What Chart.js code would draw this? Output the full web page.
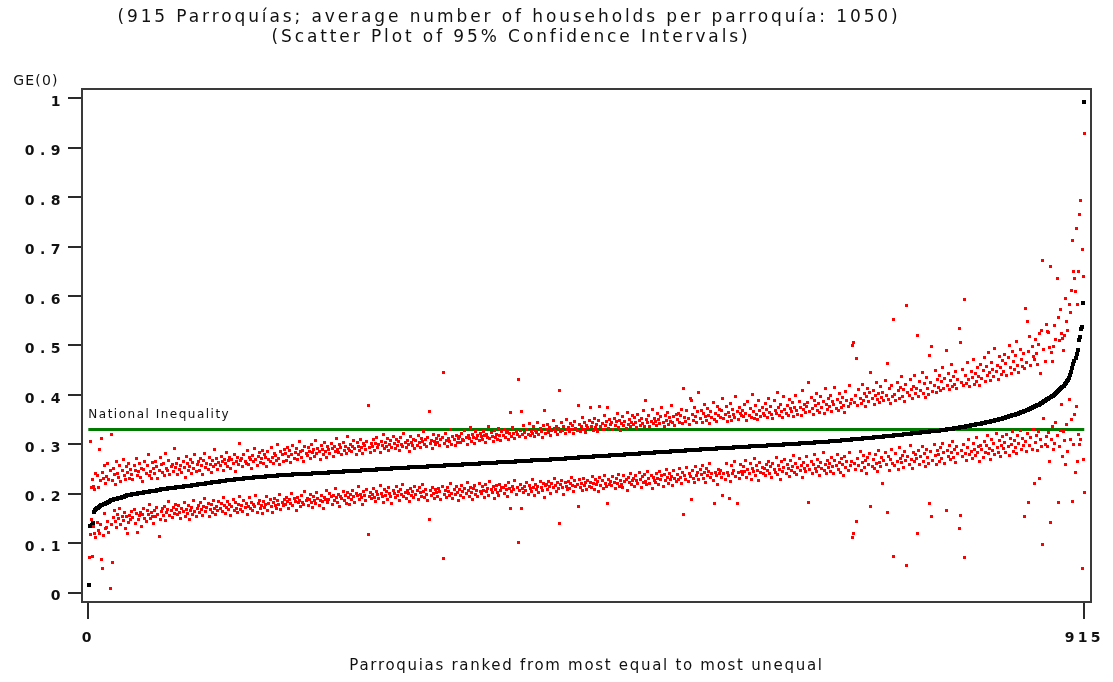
<!DOCTYPE html>
<html>
<head>
<meta charset="utf-8">
<script src="https://cdn.jsdelivr.net/npm/chart.js@4.4.1/dist/chart.umd.min.js"></script>
<style>
  html, body { margin: 0; padding: 0; background: #fff; }
</style>
</head>
<body>
<canvas id="chart" width="1113" height="682"></canvas>
<script>
// Texts
const titleLines = [
  '(915 Parroquías; average number of households per parroquía: 1050)',
  '(Scatter Plot of 95% Confidence Intervals)'
];
const xAxisTitle = 'Parroquias ranked from most equal to most unequal';
const yAxisTitle = 'GE(0)';
const nationalLabel = 'National Inequality';

// Axis ticks
const xTicks = [0, 915];
const yTicks = [0, 0.1, 0.2, 0.3, 0.4, 0.5, 0.6, 0.7, 0.8, 0.9, 1];

// National GE(0)
const nationalLevel = 0.33;

// GE(0) per parroquia, ranked (rank 1..915)
const ge0 = [
  0.015,0.135,0.137,0.140,0.163,0.167,0.169,0.171,0.172,0.174,0.176,0.177,0.178,0.179,0.180,0.181,0.182,0.183,0.184,0.185,
  0.187,0.188,0.188,0.189,0.190,0.190,0.191,0.191,0.192,0.192,0.193,0.193,0.194,0.195,0.196,0.197,0.197,0.198,0.198,0.199,
  0.199,0.199,0.200,0.200,0.200,0.201,0.201,0.201,0.202,0.202,0.203,0.203,0.203,0.204,0.204,0.204,0.205,0.205,0.205,0.206,
  0.206,0.206,0.207,0.207,0.208,0.208,0.209,0.209,0.209,0.210,0.210,0.210,0.211,0.211,0.211,0.211,0.212,0.212,0.212,0.212,
  0.213,0.213,0.213,0.214,0.214,0.214,0.214,0.215,0.215,0.215,0.215,0.216,0.216,0.216,0.217,0.217,0.218,0.218,0.218,0.218,
  0.219,0.219,0.219,0.220,0.220,0.220,0.220,0.221,0.221,0.221,0.222,0.222,0.222,0.223,0.223,0.223,0.224,0.224,0.224,0.224,
  0.225,0.225,0.225,0.226,0.226,0.226,0.227,0.227,0.227,0.227,0.228,0.228,0.228,0.228,0.229,0.229,0.229,0.229,0.230,0.230,
  0.230,0.230,0.231,0.231,0.231,0.231,0.232,0.232,0.232,0.232,0.232,0.233,0.233,0.233,0.233,0.233,0.233,0.234,0.234,0.234,
  0.234,0.234,0.235,0.235,0.235,0.235,0.235,0.236,0.236,0.236,0.236,0.236,0.236,0.237,0.237,0.237,0.237,0.237,0.237,0.238,
  0.238,0.238,0.238,0.238,0.238,0.238,0.238,0.239,0.239,0.239,0.239,0.239,0.239,0.240,0.240,0.240,0.240,0.240,0.240,0.241,
  0.241,0.241,0.241,0.241,0.241,0.242,0.242,0.242,0.242,0.242,0.242,0.242,0.242,0.243,0.243,0.243,0.243,0.243,0.243,0.243,
  0.244,0.244,0.244,0.244,0.244,0.244,0.244,0.245,0.245,0.245,0.245,0.245,0.245,0.245,0.246,0.246,0.246,0.246,0.246,0.246,
  0.246,0.246,0.247,0.247,0.247,0.247,0.247,0.247,0.247,0.247,0.248,0.248,0.248,0.248,0.248,0.248,0.248,0.249,0.249,0.249,
  0.249,0.249,0.249,0.249,0.250,0.250,0.250,0.250,0.250,0.250,0.250,0.251,0.251,0.251,0.251,0.251,0.251,0.251,0.252,0.252,
  0.252,0.252,0.252,0.252,0.252,0.252,0.253,0.253,0.253,0.253,0.253,0.253,0.253,0.253,0.254,0.254,0.254,0.254,0.254,0.254,
  0.254,0.254,0.254,0.255,0.255,0.255,0.255,0.255,0.255,0.255,0.255,0.256,0.256,0.256,0.256,0.256,0.256,0.256,0.256,0.257,
  0.257,0.257,0.257,0.257,0.257,0.257,0.257,0.258,0.258,0.258,0.258,0.258,0.258,0.258,0.258,0.259,0.259,0.259,0.259,0.259,
  0.259,0.259,0.259,0.260,0.260,0.260,0.260,0.260,0.260,0.260,0.260,0.261,0.261,0.261,0.261,0.261,0.261,0.261,0.261,0.262,
  0.262,0.262,0.262,0.262,0.262,0.262,0.262,0.263,0.263,0.263,0.263,0.263,0.263,0.263,0.263,0.264,0.264,0.264,0.264,0.264,
  0.264,0.264,0.264,0.264,0.265,0.265,0.265,0.265,0.265,0.265,0.265,0.265,0.266,0.266,0.266,0.266,0.266,0.266,0.266,0.266,
  0.267,0.267,0.267,0.267,0.267,0.267,0.267,0.268,0.268,0.268,0.268,0.268,0.268,0.268,0.269,0.269,0.269,0.269,0.269,0.269,
  0.269,0.269,0.269,0.269,0.270,0.270,0.270,0.270,0.270,0.270,0.270,0.271,0.271,0.271,0.271,0.271,0.271,0.271,0.272,0.272,
  0.272,0.272,0.272,0.273,0.273,0.273,0.273,0.273,0.273,0.273,0.274,0.274,0.274,0.274,0.274,0.274,0.274,0.275,0.275,0.275,
  0.275,0.275,0.275,0.275,0.276,0.276,0.276,0.276,0.276,0.276,0.276,0.277,0.277,0.277,0.277,0.277,0.277,0.277,0.278,0.278,
  0.278,0.278,0.278,0.278,0.278,0.279,0.279,0.279,0.279,0.279,0.279,0.279,0.280,0.280,0.280,0.280,0.280,0.280,0.280,0.281,
  0.281,0.281,0.281,0.281,0.281,0.281,0.282,0.282,0.282,0.282,0.282,0.282,0.282,0.283,0.283,0.283,0.283,0.283,0.283,0.283,
  0.284,0.284,0.284,0.284,0.284,0.284,0.284,0.285,0.285,0.285,0.285,0.285,0.285,0.285,0.286,0.286,0.286,0.286,0.286,0.286,
  0.286,0.287,0.287,0.287,0.287,0.287,0.287,0.287,0.288,0.288,0.288,0.288,0.288,0.288,0.288,0.289,0.289,0.289,0.289,0.289,
  0.289,0.289,0.290,0.290,0.290,0.290,0.290,0.290,0.290,0.291,0.291,0.291,0.291,0.291,0.291,0.291,0.291,0.292,0.292,0.292,
  0.292,0.292,0.292,0.292,0.293,0.293,0.293,0.293,0.293,0.293,0.293,0.293,0.294,0.294,0.294,0.294,0.294,0.294,0.294,0.295,
  0.295,0.295,0.295,0.295,0.295,0.295,0.295,0.296,0.296,0.296,0.296,0.296,0.296,0.296,0.296,0.297,0.297,0.297,0.297,0.297,
  0.297,0.297,0.297,0.298,0.298,0.298,0.298,0.298,0.298,0.298,0.298,0.299,0.299,0.299,0.299,0.299,0.299,0.299,0.300,0.300,
  0.300,0.300,0.300,0.300,0.300,0.300,0.301,0.301,0.301,0.301,0.301,0.301,0.301,0.302,0.302,0.302,0.302,0.302,0.302,0.302,
  0.303,0.303,0.303,0.303,0.303,0.303,0.303,0.304,0.304,0.304,0.304,0.304,0.304,0.305,0.305,0.305,0.305,0.305,0.305,0.305,
  0.306,0.306,0.306,0.306,0.306,0.306,0.307,0.307,0.307,0.307,0.307,0.308,0.308,0.308,0.308,0.308,0.309,0.309,0.309,0.309,
  0.309,0.310,0.310,0.310,0.310,0.310,0.311,0.311,0.311,0.311,0.311,0.312,0.312,0.312,0.312,0.312,0.313,0.313,0.313,0.313,
  0.313,0.314,0.314,0.314,0.314,0.315,0.315,0.315,0.315,0.315,0.316,0.316,0.316,0.316,0.317,0.317,0.317,0.317,0.317,0.318,
  0.318,0.318,0.318,0.318,0.319,0.319,0.319,0.319,0.320,0.320,0.320,0.320,0.321,0.321,0.321,0.321,0.322,0.322,0.322,0.322,
  0.323,0.323,0.323,0.323,0.324,0.324,0.324,0.324,0.325,0.325,0.325,0.325,0.326,0.326,0.326,0.326,0.327,0.327,0.327,0.328,
  0.328,0.328,0.329,0.329,0.329,0.330,0.330,0.330,0.331,0.331,0.331,0.332,0.332,0.332,0.333,0.333,0.333,0.334,0.334,0.334,
  0.335,0.335,0.335,0.336,0.336,0.337,0.337,0.337,0.338,0.338,0.339,0.339,0.339,0.340,0.340,0.341,0.341,0.342,0.342,0.342,
  0.343,0.343,0.344,0.344,0.345,0.345,0.346,0.346,0.347,0.347,0.348,0.348,0.349,0.349,0.350,0.350,0.351,0.351,0.352,0.353,
  0.353,0.354,0.355,0.355,0.356,0.357,0.357,0.358,0.359,0.359,0.360,0.361,0.362,0.362,0.363,0.364,0.365,0.366,0.366,0.367,
  0.368,0.369,0.370,0.371,0.372,0.373,0.374,0.375,0.376,0.377,0.378,0.379,0.380,0.381,0.383,0.384,0.385,0.387,0.388,0.389,
  0.391,0.392,0.394,0.395,0.397,0.398,0.400,0.402,0.404,0.406,0.408,0.410,0.412,0.414,0.417,0.419,0.422,0.425,0.428,0.431,
  0.435,0.440,0.447,0.455,0.463,0.468,0.475,0.482,0.490,0.512,0.518,0.534,0.537,0.586,0.992
];

// Upper bound of the 95% confidence interval, same ranking
const ciUpper = [
  0.072,0.305,0.213,0.228,0.215,0.209,0.242,0.236,0.212,0.290,0.226,0.311,0.244,0.231,0.258,0.221,0.235,0.262,0.229,0.247,
  0.319,0.226,0.251,0.238,0.219,0.266,0.241,0.233,0.257,0.224,0.248,0.270,0.236,0.229,0.255,0.244,0.262,0.231,0.250,0.239,
  0.228,0.258,0.247,0.271,0.236,0.245,0.262,0.233,0.252,0.224,0.249,0.266,0.240,0.257,0.279,0.237,0.246,0.231,0.263,0.251,
  0.240,0.266,0.255,0.231,0.248,0.273,0.259,0.244,0.262,0.236,0.281,0.251,0.247,0.268,0.239,0.256,0.260,0.245,0.292,0.253,
  0.262,0.238,0.271,0.249,0.257,0.243,0.266,0.254,0.233,0.275,0.261,0.248,0.256,0.270,0.241,0.263,0.252,0.279,0.246,0.259,
  0.265,0.247,0.272,0.258,0.239,0.268,0.281,0.253,0.262,0.249,0.274,0.260,0.243,0.267,0.256,0.290,0.259,0.271,0.250,0.264,
  0.258,0.276,0.265,0.248,0.270,0.261,0.283,0.255,0.267,0.273,0.252,0.269,0.262,0.279,0.246,0.266,0.274,0.259,0.302,0.268,
  0.271,0.256,0.280,0.266,0.262,0.287,0.259,0.274,0.269,0.251,0.278,0.265,0.292,0.270,0.258,0.276,0.283,0.263,0.271,0.288,
  0.262,0.279,0.273,0.256,0.285,0.270,0.266,0.294,0.274,0.261,0.282,0.277,0.268,0.299,0.271,0.259,0.286,0.279,0.265,0.290,
  0.281,0.268,0.293,0.276,0.287,0.263,0.280,0.298,0.272,0.284,0.291,0.269,0.279,0.305,0.286,0.274,0.288,0.266,0.295,0.282,
  0.277,0.294,0.286,0.271,0.300,0.283,0.289,0.275,0.308,0.281,0.292,0.286,0.270,0.297,0.290,0.279,0.303,0.285,0.274,0.296,
  0.289,0.281,0.301,0.292,0.276,0.296,0.286,0.312,0.290,0.283,0.299,0.293,0.279,0.304,0.288,0.296,0.281,0.315,0.292,0.287,
  0.300,0.285,0.295,0.308,0.291,0.279,0.303,0.296,0.288,0.310,0.293,0.282,0.301,0.297,0.289,0.306,0.378,0.294,0.284,0.302,
  0.295,0.309,0.288,0.301,0.314,0.293,0.299,0.283,0.306,0.297,0.320,0.291,0.303,0.296,0.311,0.287,0.300,0.308,0.294,0.316,
  0.302,0.291,0.310,0.298,0.305,0.287,0.313,0.300,0.295,0.322,0.304,0.293,0.308,0.299,0.286,0.315,0.303,0.297,0.310,0.292,
  0.307,0.298,0.318,0.303,0.293,0.311,0.305,0.326,0.300,0.309,0.296,0.314,0.367,0.302,0.308,0.291,0.319,0.305,0.299,0.312,
  0.304,0.317,0.298,0.309,0.313,0.446,0.301,0.322,0.307,0.295,0.312,0.306,0.330,0.300,0.315,0.309,0.297,0.318,0.304,0.311,
  0.316,0.303,0.321,0.310,0.307,0.328,0.313,0.299,0.318,0.312,0.334,0.306,0.320,0.314,0.302,0.325,0.311,0.317,0.308,0.322,
  0.315,0.309,0.326,0.318,0.304,0.320,0.313,0.337,0.311,0.323,0.316,0.306,0.329,0.314,0.319,0.310,0.332,0.317,0.308,0.325,
  0.318,0.330,0.313,0.323,0.327,0.310,0.321,0.364,0.316,0.334,0.322,0.311,0.326,0.319,0.432,0.315,0.329,0.367,0.320,0.338,
  0.324,0.313,0.331,0.320,0.342,0.318,0.327,0.322,0.336,0.315,0.329,0.324,0.345,0.319,0.332,0.326,0.314,0.339,0.368,0.321,
  0.330,0.341,0.323,0.335,0.318,0.328,0.348,0.332,0.325,0.337,0.320,0.333,0.409,0.327,0.344,0.329,0.336,0.322,0.351,0.331,
  0.334,0.325,0.343,0.330,0.338,0.321,0.346,0.333,0.328,0.378,0.340,0.326,0.336,0.355,0.331,0.344,0.323,0.339,0.334,0.349,
  0.375,0.337,0.345,0.329,0.352,0.334,0.341,0.327,0.348,0.376,0.336,0.343,0.331,0.358,0.339,0.346,0.375,0.333,0.350,0.340,
  0.344,0.331,0.353,0.338,0.347,0.362,0.335,0.349,0.328,0.342,0.357,0.339,0.346,0.333,0.365,0.341,0.350,0.336,0.345,0.358,
  0.340,0.355,0.345,0.334,0.361,0.348,0.339,0.352,0.343,0.368,0.337,0.388,0.350,0.344,0.359,0.336,0.347,0.371,0.342,0.353,
  0.346,0.338,0.362,0.351,0.343,0.357,0.374,0.345,0.336,0.359,0.349,0.365,0.341,0.354,0.347,0.378,0.344,0.356,0.339,0.361,
  0.350,0.363,0.345,0.358,0.371,0.342,0.414,0.355,0.347,0.368,0.352,0.340,0.392,0.389,0.361,0.349,0.375,0.357,0.344,0.366,
  0.404,0.353,0.369,0.345,0.362,0.381,0.356,0.348,0.373,0.359,0.342,0.366,0.355,0.385,0.351,0.363,0.347,0.377,0.358,0.370,
  0.355,0.368,0.392,0.352,0.361,0.376,0.346,0.364,0.357,0.383,0.349,0.371,0.360,0.354,0.397,0.366,0.351,0.374,0.362,0.358,
  0.369,0.356,0.380,0.363,0.348,0.386,0.359,0.372,0.355,0.401,0.366,0.353,0.378,0.361,0.350,0.389,0.368,0.357,0.375,0.363,
  0.359,0.382,0.371,0.354,0.393,0.365,0.377,0.360,0.352,0.388,0.369,0.362,0.405,0.374,0.358,0.381,0.366,0.355,0.396,0.370,
  0.363,0.379,0.358,0.391,0.372,0.366,0.384,0.356,0.375,0.399,0.368,0.361,0.387,0.374,0.359,0.408,0.370,0.381,0.364,0.377,
  0.385,0.426,0.367,0.395,0.373,0.360,0.389,0.378,0.402,0.369,0.383,0.364,0.397,0.375,0.386,0.362,0.412,0.380,0.371,0.393,
  0.376,0.398,0.366,0.387,0.381,0.415,0.372,0.390,0.368,0.403,0.384,0.374,0.395,0.379,0.365,0.407,0.388,0.377,0.419,0.382,
  0.391,0.500,0.507,0.385,0.399,0.473,0.378,0.410,0.393,0.383,0.422,0.388,0.402,0.376,0.396,0.414,0.386,0.404,0.446,0.392,
  0.409,0.381,0.398,0.425,0.390,0.403,0.384,0.417,0.394,0.405,0.388,0.430,0.399,0.464,0.391,0.412,0.383,0.420,0.397,0.552,
  0.401,0.389,0.426,0.408,0.393,0.415,0.437,0.396,0.410,0.386,0.421,0.580,0.404,0.398,0.432,0.411,0.392,0.418,0.440,0.402,
  0.414,0.520,0.397,0.428,0.409,0.445,0.403,0.423,0.395,0.436,0.413,0.401,0.480,0.426,0.497,0.407,0.419,0.450,0.404,0.431,
  0.415,0.439,0.408,0.427,0.456,0.412,0.433,0.490,0.420,0.444,0.410,0.429,0.461,0.417,0.437,0.422,0.448,0.414,0.432,0.535,
  0.507,0.426,0.452,0.419,0.593,0.440,0.424,0.466,0.431,0.418,0.447,0.435,0.471,0.422,0.443,0.428,0.456,0.437,0.420,0.462,
  0.433,0.449,0.476,0.427,0.458,0.440,0.485,0.445,0.430,0.466,0.452,0.438,0.494,0.447,0.460,0.432,0.478,0.455,0.442,0.470,
  0.448,0.482,0.463,0.439,0.475,0.501,0.456,0.444,0.488,0.467,0.451,0.479,0.509,0.460,0.446,0.492,0.471,0.457,0.484,0.454,
  0.574,0.466,0.549,0.488,0.518,0.459,0.497,0.478,0.472,0.512,0.483,0.462,0.503,0.525,0.444,0.531,0.673,0.491,0.468,0.542,
  0.528,0.527,0.495,0.660,0.485,0.468,0.498,0.541,0.512,0.635,0.556,0.510,0.572,0.525,0.515,0.489,0.520,0.595,0.548,0.530,
  0.582,0.566,0.612,0.713,0.650,0.635,0.609,0.736,0.582,0.650,0.765,0.793,0.695,0.640,0.928
];

// Lower bound of the 95% confidence interval, same ranking (null = off the chart)
const ciLower = [
  null,0.118,0.147,0.073,0.134,0.120,0.112,0.141,0.126,0.119,0.137,0.068,0.048,0.115,0.161,0.129,0.131,0.144,0.122,0.008,
  0.138,0.061,0.152,0.166,0.143,0.131,0.158,0.149,0.170,0.137,0.155,0.146,0.162,0.129,0.153,0.119,0.141,0.157,0.148,0.165,
  0.152,0.168,0.139,0.160,0.121,0.147,0.156,0.163,0.134,0.159,0.171,0.150,0.144,0.166,0.158,0.178,0.149,0.162,0.155,0.140,
  0.167,0.153,0.172,0.159,0.113,0.148,0.164,0.170,0.156,0.175,0.146,0.162,0.168,0.185,0.157,0.166,0.151,0.173,0.160,0.178,
  0.169,0.158,0.176,0.163,0.150,0.171,0.165,0.182,0.154,0.168,0.161,0.177,0.147,0.166,0.173,0.159,0.186,0.164,0.155,0.170,
  0.176,0.162,0.183,0.168,0.157,0.174,0.190,0.165,0.172,0.180,0.153,0.169,0.178,0.163,0.186,0.171,0.158,0.175,0.167,0.184,
  0.170,0.181,0.164,0.193,0.176,0.160,0.173,0.185,0.168,0.179,0.156,0.174,0.188,0.166,0.182,0.171,0.162,0.178,0.195,0.169,
  0.177,0.164,0.186,0.173,0.181,0.158,0.175,0.192,0.170,0.183,0.167,0.179,0.174,0.196,0.163,0.180,0.187,0.171,0.177,0.161,
  0.184,0.172,0.178,0.195,0.166,0.181,0.188,0.175,0.163,0.183,0.191,0.177,0.170,0.186,0.179,0.199,0.168,0.182,0.176,0.189,
  0.178,0.193,0.185,0.171,0.188,0.180,0.201,0.176,0.190,0.184,0.167,0.192,0.182,0.187,0.174,0.196,0.183,0.179,0.204,0.186,
  0.191,0.177,0.188,0.199,0.183,0.172,0.194,0.187,0.181,0.203,0.190,0.176,0.186,0.197,0.184,0.170,0.193,0.189,0.207,0.182,
  0.188,0.201,0.194,0.179,0.197,0.186,0.211,0.192,0.183,0.199,0.175,0.195,0.190,0.205,0.187,0.196,0.181,0.202,0.193,0.178,
  0.198,0.189,0.207,0.194,0.183,0.201,0.196,0.214,0.188,0.199,0.192,0.179,0.204,0.197,0.186,0.209,0.118,0.195,0.203,0.190,
  0.199,0.211,0.193,0.184,0.205,0.198,0.190,0.216,0.201,0.195,0.183,0.208,0.197,0.204,0.189,0.212,0.200,0.194,0.181,0.206,
  0.201,0.193,0.214,0.197,0.205,0.186,0.209,0.199,0.218,0.195,0.203,0.190,0.207,0.200,0.184,0.211,0.196,0.204,0.192,0.215,
  0.198,0.207,0.189,0.212,0.202,0.195,0.219,0.204,0.193,0.209,0.199,0.186,0.148,0.206,0.197,0.213,0.201,0.190,0.208,0.203,
  0.195,0.210,0.204,0.188,0.215,0.070,0.199,0.207,0.192,0.212,0.205,0.196,0.220,0.201,0.190,0.209,0.198,0.214,0.203,0.187,
  0.208,0.197,0.216,0.205,0.192,0.211,0.201,0.223,0.206,0.195,0.213,0.203,0.189,0.210,0.217,0.199,0.207,0.194,0.221,0.204,
  0.200,0.214,0.207,0.193,0.218,0.205,0.211,0.196,0.225,0.208,0.202,0.215,0.190,0.209,0.216,0.203,0.197,0.219,0.206,0.212,
  0.213,0.201,0.217,0.208,0.195,0.222,0.210,0.170,0.204,0.215,0.209,0.227,0.198,0.212,0.101,0.206,0.219,0.170,0.211,0.203,
  0.214,0.207,0.222,0.199,0.217,0.211,0.204,0.228,0.213,0.196,0.219,0.209,0.215,0.202,0.224,0.212,0.206,0.220,0.193,0.216,
  0.218,0.208,0.225,0.214,0.201,0.221,0.212,0.230,0.216,0.205,0.223,0.210,0.139,0.219,0.227,0.213,0.199,0.222,0.215,0.208,
  0.224,0.211,0.220,0.233,0.216,0.204,0.226,0.214,0.219,0.174,0.229,0.212,0.221,0.207,0.231,0.217,0.223,0.209,0.226,0.215,
  0.222,0.213,0.235,0.220,0.209,0.228,0.218,0.224,0.205,0.232,0.216,0.226,0.211,0.237,0.221,0.214,0.181,0.229,0.219,0.225,
  0.217,0.234,0.223,0.210,0.230,0.221,0.239,0.215,0.227,0.219,0.212,0.236,0.224,0.228,0.207,0.233,0.222,0.241,0.218,0.226,
  0.231,0.215,0.237,0.226,0.220,0.243,0.228,0.212,0.234,0.222,0.239,0.225,0.218,0.246,0.230,0.221,0.236,0.210,0.233,0.227,
  0.223,0.240,0.231,0.218,0.245,0.229,0.236,0.214,0.238,0.226,0.250,0.232,0.221,0.241,0.228,0.235,0.217,0.247,0.230,0.224,
  0.239,0.228,0.251,0.233,0.220,0.244,0.159,0.236,0.229,0.253,0.225,0.241,0.234,0.188,0.247,0.231,0.222,0.256,0.237,0.243,
  0.228,0.249,0.238,0.258,0.231,0.243,0.222,0.252,0.236,0.245,0.261,0.233,0.240,0.226,0.181,0.244,0.237,0.219,0.250,0.241,
  0.247,0.233,0.196,0.241,0.229,0.262,0.244,0.237,0.191,0.225,0.258,0.240,0.248,0.266,0.235,0.180,0.243,0.230,0.259,0.246,
  0.238,0.255,0.246,0.268,0.233,0.250,0.242,0.261,0.229,0.252,0.245,0.271,0.237,0.257,0.248,0.226,0.263,0.244,0.254,0.240,
  0.251,0.236,0.259,0.247,0.266,0.241,0.255,0.232,0.262,0.249,0.244,0.274,0.238,0.257,0.250,0.229,0.265,0.246,0.253,0.270,
  0.242,0.260,0.251,0.235,0.268,0.248,0.256,0.277,0.243,0.262,0.239,0.254,0.271,0.247,0.258,0.233,0.264,0.252,0.245,0.275,
  0.257,0.182,0.249,0.266,0.241,0.259,0.279,0.252,0.245,0.270,0.256,0.237,0.263,0.251,0.283,0.247,0.260,0.242,0.268,0.254,
  0.262,0.246,0.273,0.255,0.240,0.267,0.258,0.280,0.250,0.264,0.244,0.271,0.259,0.236,0.276,0.253,0.265,0.248,0.284,0.257,
  0.266,0.112,0.119,0.261,0.250,0.144,0.272,0.258,0.286,0.247,0.263,0.277,0.253,0.268,0.241,0.274,0.260,0.282,0.174,0.255,
  0.270,0.251,0.279,0.262,0.245,0.288,0.264,0.256,0.274,0.220,0.267,0.283,0.259,0.162,0.276,0.248,0.269,0.290,0.261,0.074,
  0.258,0.281,0.266,0.249,0.293,0.272,0.263,0.278,0.254,0.286,0.268,0.054,0.275,0.260,0.297,0.270,0.252,0.283,0.265,0.279,
  0.271,0.120,0.288,0.259,0.276,0.295,0.266,0.281,0.255,0.290,0.273,0.262,0.180,0.285,0.153,0.268,0.300,0.277,0.260,0.287,
  0.279,0.265,0.293,0.272,0.302,0.284,0.261,0.166,0.288,0.275,0.298,0.269,0.283,0.305,0.274,0.290,0.263,0.296,0.281,0.129,
  0.157,0.287,0.276,0.300,0.071,0.282,0.268,0.293,0.309,0.279,0.286,0.271,0.302,0.290,0.277,0.313,0.284,0.295,0.266,0.298,
  0.289,0.274,0.306,0.283,0.297,0.318,0.281,0.292,0.270,0.310,0.287,0.301,0.279,0.322,0.294,0.284,0.307,0.275,0.298,0.315,
  0.291,0.304,0.283,0.320,0.296,0.277,0.312,0.300,0.325,0.286,0.308,0.294,0.281,0.318,0.302,0.329,0.289,0.311,0.297,0.153,
  0.306,0.285,0.322,0.182,0.297,0.314,0.290,0.331,0.221,0.303,0.318,0.288,0.326,0.231,0.309,0.295,0.098,0.353,0.300,0.316,
  0.295,0.324,0.266,0.142,0.310,0.337,0.289,0.302,0.345,0.318,0.182,0.296,0.328,0.380,0.276,0.325,0.307,0.260,0.341,0.285,
  0.390,0.310,0.350,0.184,0.300,0.360,0.243,0.376,0.266,0.320,0.300,0.310,0.049,0.270,0.203
];

// rank 1..915 on the x axis
const toPoints = vals => vals.map((v, i) => ({ x: i + 1, y: v }));

// small rectangular markers like the original plot
function marker(w, h, color) {
  const c = document.createElement('canvas');
  c.width = w; c.height = h;
  const g = c.getContext('2d');
  g.fillStyle = color;
  g.fillRect(0, 0, w, h);
  return c;
}
const redDot = marker(3, 3, '#ff0000');
const blackDot = marker(4, 4, '#000000');

const fontFamily = '"DejaVu Sans", sans-serif';

// wide letter spacing for the tick labels of one scale
function spaceLabels(scale, spacing) {
  if (scale.spacedLabels) return;
  const draw = scale.drawLabels.bind(scale);
  scale.drawLabels = area => {
    scale.ctx.save();
    scale.ctx.letterSpacing = spacing;
    draw(area);
    scale.ctx.restore();
  };
  scale.spacedLabels = true;
}

// frame around the plot + free texts
const decorPlugin = {
  id: 'decor',
  beforeDraw(chart) {
    chart.ctx.imageSmoothingEnabled = false;
  },
  beforeDatasetsDraw(chart) {
    const { ctx, chartArea: a } = chart;
    ctx.save();
    ctx.strokeStyle = '#3a3a3a';
    ctx.lineWidth = 2;
    ctx.strokeRect(a.left, a.top, a.right - a.left, a.bottom - a.top);
    ctx.restore();
  },
  afterDraw(chart) {
    const { ctx, chartArea: a, scales } = chart;
    ctx.save();
    ctx.fillStyle = '#111';
    ctx.textBaseline = 'middle';

    ctx.textAlign = 'center';
    ctx.font = '17px ' + fontFamily;
    ctx.letterSpacing = '2.9px';
    ctx.fillText(titleLines[0], 509, 18);
    ctx.fillText(titleLines[1], 511, 38);

    ctx.font = '15px ' + fontFamily;
    ctx.letterSpacing = '1.7px';
    ctx.fillText(xAxisTitle, (a.left + a.right) / 2, 666);

    ctx.font = '14px ' + fontFamily;
    ctx.letterSpacing = '1.2px';
    ctx.fillText(yAxisTitle, 36, 81);

    ctx.textAlign = 'left';
    ctx.font = '12px ' + fontFamily;
    ctx.letterSpacing = '1.5px';
    ctx.fillText(nationalLabel, scales.x.getPixelForValue(xTicks[0]), scales.y.getPixelForValue(nationalLevel) - 15);
    ctx.restore();
  }
};

new Chart(document.getElementById('chart'), {
  type: 'scatter',
  data: {
    datasets: [
      {
        label: 'Upper bound',
        data: toPoints(ciUpper),
        pointStyle: redDot,
        pointRadius: 2,
        order: 0
      },
      {
        label: 'Lower bound',
        data: toPoints(ciLower),
        pointStyle: redDot,
        pointRadius: 2,
        order: 1
      },
      {
        label: 'GE(0)',
        data: toPoints(ge0),
        pointStyle: blackDot,
        pointRadius: 2,
        order: 2
      },
      {
        type: 'line',
        label: nationalLabel,
        data: [{ x: xTicks[0], y: nationalLevel }, { x: xTicks[1], y: nationalLevel }],
        borderColor: '#007a00',
        borderWidth: 3,
        pointRadius: 0,
        showLine: true,
        fill: false,
        order: 3
      }
    ]
  },
  options: {
    responsive: false,
    animation: false,
    events: [],
    layout: { padding: { top: 89, right: 22, bottom: 0, left: 0 } },
    plugins: {
      legend: { display: false },
      tooltip: { enabled: false },
      title: { display: false }
    },
    scales: {
      x: {
        type: 'linear',
        min: -5.8,
        max: 921.2,
        afterFit: s => { s.height = 80; spaceLabels(s, '3.3px'); },
        afterBuildTicks: s => { s.ticks = xTicks.map(v => ({ value: v })); },
        border: { display: false },
        grid: { drawOnChartArea: false, drawTicks: true, tickLength: 17, color: '#2a2a2a', lineWidth: 2 },
        ticks: {
          padding: 11,
          color: '#111',
          maxRotation: 0,
          font: { family: fontFamily, size: 14, weight: 'bold' },
          callback: v => String(v)
        }
      },
      y: {
        type: 'linear',
        min: -0.019,
        max: 1.019,
        afterFit: s => { s.width = 82; spaceLabels(s, '5.5px'); },
        afterBuildTicks: s => { s.ticks = yTicks.map(v => ({ value: v })); },
        border: { display: false },
        grid: { drawOnChartArea: false, drawTicks: true, tickLength: 14, color: '#2a2a2a', lineWidth: 2 },
        ticks: {
          padding: 2,
          labelOffset: 4,
          color: '#111',
          font: { family: fontFamily, size: 14, weight: 'bold' },
          callback: v => String(v)
        }
      }
    }
  },
  plugins: [decorPlugin]
});
</script>
</body>
</html>
